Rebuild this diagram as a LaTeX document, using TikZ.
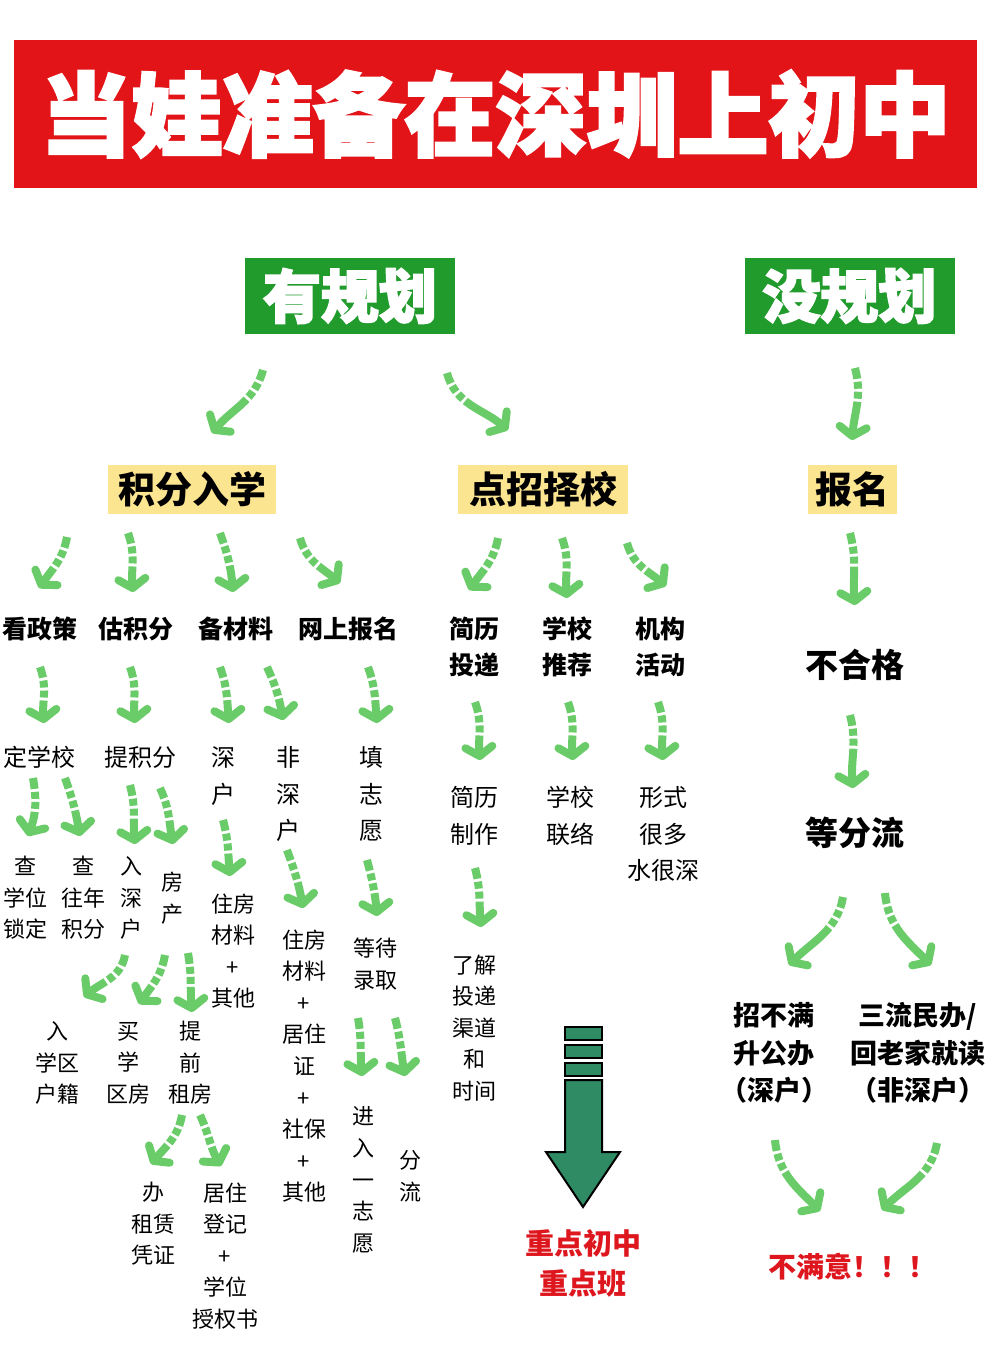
\documentclass[tikz,border=0pt]{standalone}
\usepackage{fontspec}
\setmainfont{Noto Sans CJK SC}
\newfontfamily\titlefont[FakeBold=3]{Noto Sans CJK SC}
\usetikzlibrary{arrows.meta}
\definecolor{titlered}{RGB}{226,20,24}
\definecolor{plangreen}{RGB}{32,155,44}
\definecolor{boxyellow}{RGB}{252,229,145}
\definecolor{arrowgreen}{RGB}{106,204,104}
\definecolor{bigarrow}{RGB}{46,139,100}
\definecolor{redtext}{RGB}{222,22,30}
\tikzset{
  garrow/.style={draw=arrowgreen, line width=8pt,
    dash pattern=on 11pt off 3pt on 7pt off 3pt on 7pt off 3pt on 300pt off 1pt,
    -{Straight Barb[length=9pt,width=27pt,round]}},
  t/.style={inner sep=0pt, align=center, text=black},
  bold25/.style={t, font=\bfseries\fontsize{25}{36}\selectfont},
  reg24/.style={t, font=\fontsize{24}{36.5}\selectfont},
  reg22/.style={t, font=\fontsize{22}{31.6}\selectfont},
  bold33/.style={t, font=\bfseries\fontsize{33}{40}\selectfont},
  bold27/.style={t, font=\bfseries\fontsize{27}{37.5}\selectfont},
  redbold/.style={t, text=redtext, font=\bfseries\fontsize{29}{40}\selectfont},
  planbox/.style={fill=plangreen, inner sep=0pt, minimum width=210pt, minimum height=76pt,
    text=white, font=\titlefont\bfseries\fontsize{58}{60}\selectfont},
  ybox/.style={fill=boxyellow, inner sep=0pt, minimum height=49pt,
    text=black, font=\bfseries\fontsize{37}{40}\selectfont},
}
\begin{document}
\begin{tikzpicture}[x=1pt,y=-1pt]
\useasboundingbox (0,0) rectangle (995,1355);
\fill[white] (0,0) rectangle (995,1355);

% title
\node[fill=titlered, inner sep=0pt, minimum width=963pt, minimum height=148pt,
  text=white, font=\titlefont\bfseries\fontsize{91}{95}\selectfont] (title) at (495.5,114) {当娃准备在深圳上初中};

% plan boxes
\node[planbox] (yes) at (350,296) {有规划};
\node[planbox] (no) at (849.5,296) {没规划};

% yellow boxes
\node[ybox, minimum width=168pt] (jf) at (192,489.5) {积分入学};
\node[ybox, minimum width=170pt] (dz) at (543,489.5) {点招择校};
\node[ybox, minimum width=89pt] (bm) at (852.5,489.5) {报名};

% level 2
\node[bold25] (zc) at (40,629) {看政策};
\node[bold25] (gj) at (136,629) {估积分};
\node[bold25] (bc) at (236,629) {备材料};
\node[bold25] (ws) at (348,629) {网上报名};
\node[bold25] (jl) at (474,647) {简历\\投递};
\node[bold25] (xt) at (567,647) {学校\\推荐};
\node[bold25] (jg) at (660,647) {机构\\活动};

% level 3
\node[reg24] (dx) at (40,757) {定学校};
\node[reg24] (tj) at (140,757) {提积分};
\node[reg24] (sh) at (223,776) {深\\户};
\node[reg24] (fs) at (288,794) {非\\深\\户};
\node[reg24] (tz) at (371,794) {填\\志\\愿};
\node[reg24] (jz) at (474,816) {简历\\制作};
\node[reg24] (xl) at (570,816) {学校\\联络};
\node[reg24] (xs) at (663,834) {形式\\很多\\水很深};

% level 4
\node[reg22] (c1) at (25,898) {查\\学位\\锁定};
\node[reg22] (c2) at (83,898) {查\\往年\\积分};
\node[reg22] (rs) at (131,898) {入\\深\\户};
\node[reg22] (fc) at (172,898) {房\\产};
\node[reg22] (zf1) at (233,951) {住房\\材料\\+\\其他};
\node[reg22] (zf2) at (304,1066) {住房\\材料\\+\\居住\\证\\+\\社保\\+\\其他};
\node[reg22] (dd) at (375,964) {等待\\录取};
\node[reg22] (lj) at (474,1028) {了解\\投递\\渠道\\和\\时间};

% level 5
\node[reg22] (rx) at (57,1063) {入\\学区\\户籍};
\node[reg22] (mx) at (128,1063) {买\\学\\区房};
\node[reg22] (tq) at (190,1063) {提\\前\\租房};
\node[reg22] (bz) at (153,1224) {办\\租赁\\凭证};
\node[reg22] (jd) at (225,1256) {居住\\登记\\+\\学位\\授权书};
\node[reg22] (jr) at (363,1180) {进\\入\\一\\志\\愿};
\node[reg22] (fl) at (410,1176) {分\\流};

% right column
\node[bold33] (bh) at (855,665) {不合格};
\node[bold33] (df) at (855,833) {等分流};
\node[bold27] (zb) at (774,1053) {招不满\\升公办\\（深户）};
\node[bold27] (sl) at (918,1053) {三流民办/\\回老家就读\\（非深户）};
\node[redbold, font=\bfseries\fontsize{28}{40}\selectfont] (bmy) at (852,1267) {不满意！！！};
\node[redbold] (zd) at (583,1263) {重点初中\\重点班};

% big arrow
\begin{scope}[fill=bigarrow, draw=black, line width=2pt]
\filldraw (565,1027) rectangle (602,1040);
\filldraw (565,1045) rectangle (602,1058);
\filldraw (565,1063) rectangle (602,1076);
\filldraw (565,1080) -- (602,1080) -- (602,1152) -- (620,1152) -- (583,1207) -- (546,1152) -- (565,1152) -- cycle;
\end{scope}

% green arrows
\draw[garrow] (263,370) to[out=-105,in=50] (212,433);
\draw[garrow] (447,373) to[out=-75,in=140] (508,430);
\draw[garrow] (855,368) to[out=-75,in=85] (852,440);
\draw[garrow] (850,533) to[out=-75,in=95] (855,605);
\draw[garrow] (850,715) to[out=-75,in=95] (853,788);
\draw[garrow] (843,897) to[out=-100,in=45] (789,965);
\draw[garrow] (885,893) to[out=-85,in=135] (931,965);
\draw[garrow] (775,1140) to[out=-85,in=135] (820,1211);
\draw[garrow] (937,1143) to[out=-100,in=45] (882,1210);

\draw[garrow] (67,537) to[out=-100,in=55] (39,588);
\draw[garrow] (128,533) to[out=-70,in=95] (133,592);
\draw[garrow] (220,533) to[out=-70,in=95] (233,592);
\draw[garrow] (300,538) to[out=-75,in=140] (340,583);
\draw[garrow] (498,538) to[out=-100,in=55] (469,590);
\draw[garrow] (562,538) to[out=-70,in=95] (567,598);
\draw[garrow] (627,543) to[out=-75,in=140] (666,586);

\draw[garrow] (40,667) to[out=-70,in=95] (44,723);
\draw[garrow] (130,667) to[out=-70,in=95] (135,723);
\draw[garrow] (220,667) to[out=-70,in=95] (229,723);
\draw[garrow] (267,667) to[out=-65,in=100] (283,720);
\draw[garrow] (368,667) to[out=-70,in=95] (377,723);
\draw[garrow] (475,702) to[out=-70,in=95] (480,760);
\draw[garrow] (568,702) to[out=-70,in=95] (573,760);
\draw[garrow] (658,702) to[out=-70,in=95] (663,760);

\draw[garrow] (33,778) to[out=-80,in=70] (28,836);
\draw[garrow] (65,778) to[out=-70,in=100] (80,836);
\draw[garrow] (130,785) to[out=-75,in=95] (135,844);
\draw[garrow] (160,788) to[out=-65,in=100] (173,844);
\draw[garrow] (223,820) to[out=-75,in=95] (230,876);
\draw[garrow] (287,850) to[out=-70,in=100] (303,908);
\draw[garrow] (367,860) to[out=-75,in=95] (377,916);
\draw[garrow] (475,868) to[out=-75,in=95] (481,927);

\draw[garrow] (125,955) to[out=-100,in=40] (84,997);
\draw[garrow] (165,955) to[out=-100,in=55] (139,1004);
\draw[garrow] (188,953) to[out=-80,in=95] (192,1012);
\draw[garrow] (358,1018) to[out=-80,in=95] (362,1076);
\draw[garrow] (395,1018) to[out=-75,in=100] (405,1076);
\draw[garrow] (182,1115) to[out=-100,in=50] (151,1164);
\draw[garrow] (200,1115) to[out=-65,in=120] (221,1166);
\end{tikzpicture}
\end{document}
